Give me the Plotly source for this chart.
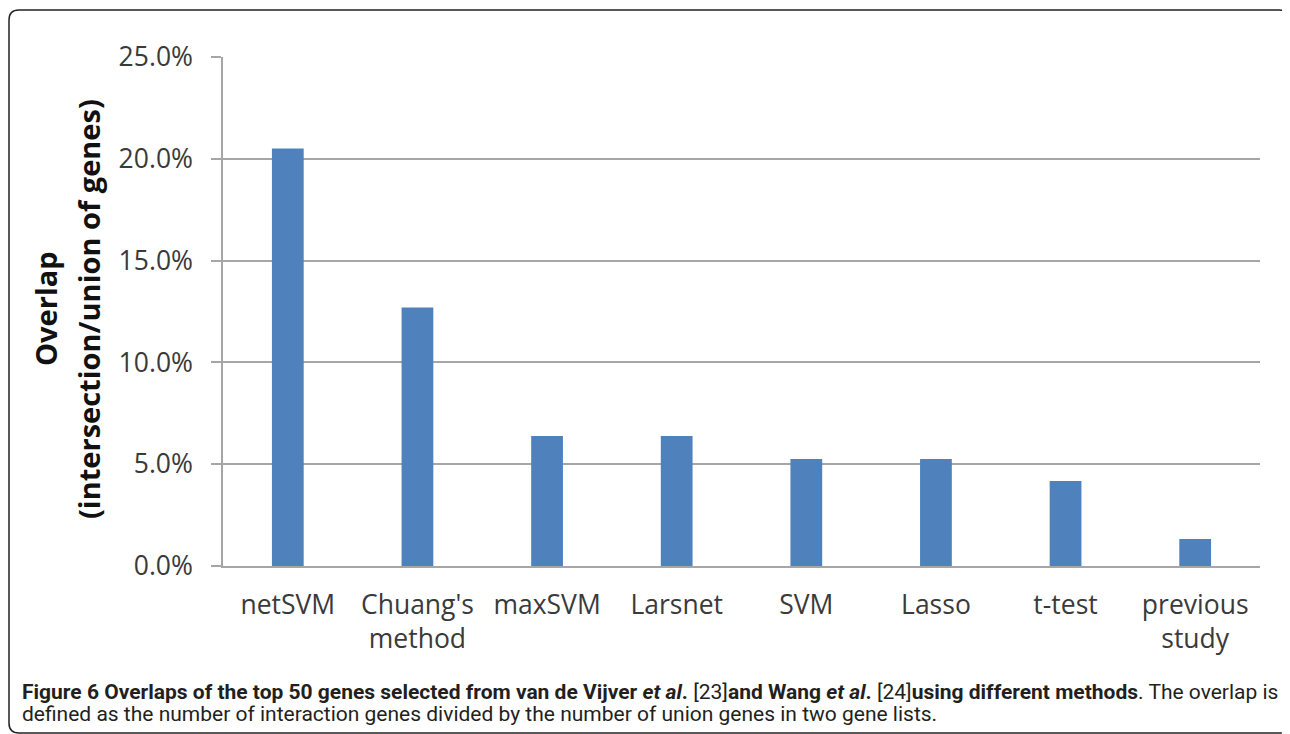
import plotly.graph_objects as go

categories = ["netSVM", "Chuang's<br>method", "maxSVM", "Larsnet", "SVM", "Lasso", "t-test", "previous<br>study"]
overlap_pct = [20.5, 12.7, 6.38, 6.38, 5.26, 5.26, 4.17, 1.33]
y_ticks = [0, 5, 10, 15, 20, 25]
y_ticklabels = ["0.0%", "5.0%", "10.0%", "15.0%", "20.0%", "25.0%"]

# page body has an 8px margin; figure sized to fit the 1290x734 window
OFF = 8
W, H = 1282, 726
L, R, T, B = 215, 30, 49, 168
PW, PH = W - L - R, H - T - B

def px(x):  # page pixel -> paper x
    return (x - OFF - L) / PW

def py(y):  # page pixel -> paper y
    return (H - B - (y - OFF)) / PH

BAR = "#4F81BD"
GRID = "#A6A6A6"
TXT = "#3A3A3A"

fig = go.Figure(go.Bar(x=categories, y=overlap_pct, marker=dict(color=BAR, line=dict(width=0)), width=0.245))

fig.update_layout(
    width=W, height=H,
    margin=dict(l=L, r=R, t=T, b=B),
    paper_bgcolor="white", plot_bgcolor="white",
    showlegend=False,
    font=dict(family="Open Sans", color=TXT),
)
fig.update_yaxes(
    range=[0, 25], tickvals=y_ticks, ticktext=y_ticklabels,
    showgrid=True, gridcolor=GRID, gridwidth=1.5,
    showline=True, linecolor=GRID, linewidth=1.5,
    ticks="outside", ticklen=10, tickcolor=GRID, tickwidth=1.5,
    ticklabelstandoff=13, tickfont=dict(size=26.5, color=TXT, family="Open Sans"),
    zeroline=False,
)
fig.update_xaxes(
    showgrid=False, showline=True, linecolor=GRID, linewidth=1.5,
    ticks="", ticklabelstandoff=14, tickfont=dict(size=26.5, color=TXT, family="Open Sans"),
)

# y-axis title (two lines)
fig.add_annotation(
    xref="paper", yref="paper", x=px(45), y=py(309), xanchor="center", yanchor="middle",
    text="<b>Overlap</b>", textangle=-90, showarrow=False,
    font=dict(size=29, color="#111111", family="Open Sans"),
)
fig.add_annotation(
    xref="paper", yref="paper", x=px(88), y=py(309), xanchor="center", yanchor="middle",
    text="<b>(intersection/union of genes)</b>", textangle=-90, showarrow=False,
    font=dict(size=29, color="#111111", family="Open Sans"),
)

caption1 = ("<b>Figure 6 Overlaps of the top 50 genes selected from van de Vijver <i>et al</i>.</b> [23]"
            "<b>and Wang <i>et al</i>.</b> [24]<b>using different methods</b>. The overlap is")
caption2 = "defined as the number of interaction genes divided by the number of union genes in two gene lists."
fig.add_annotation(
    xref="paper", yref="paper", x=px(20), y=py(692), xanchor="left", yanchor="middle",
    text=caption1, align="left", showarrow=False,
    font=dict(size=21, color="#231F20", family="Roboto"),
)
fig.add_annotation(
    xref="paper", yref="paper", x=px(20), y=py(714), xanchor="left", yanchor="middle",
    text=caption2, align="left", showarrow=False,
    font=dict(size=21, color="#231F20", family="Roboto"),
)

# rounded border frame (page coordinates)
x0, x1, y0, y1, r = 9, 1289, 10, 733, 10
path = (f"M {px(x0 + r)},{py(y0)} L {px(x1 - r)},{py(y0)} Q {px(x1)},{py(y0)} {px(x1)},{py(y0 + r)} "
        f"L {px(x1)},{py(y1 - r)} Q {px(x1)},{py(y1)} {px(x1 - r)},{py(y1)} "
        f"L {px(x0 + r)},{py(y1)} Q {px(x0)},{py(y1)} {px(x0)},{py(y1 - r)} "
        f"L {px(x0)},{py(y0 + r)} Q {px(x0)},{py(y0)} {px(x0 + r)},{py(y0)} Z")
fig.add_shape(type="path", xref="paper", yref="paper", path=path, line=dict(color="#222222", width=1.5))

fig.write_html("out.html")
